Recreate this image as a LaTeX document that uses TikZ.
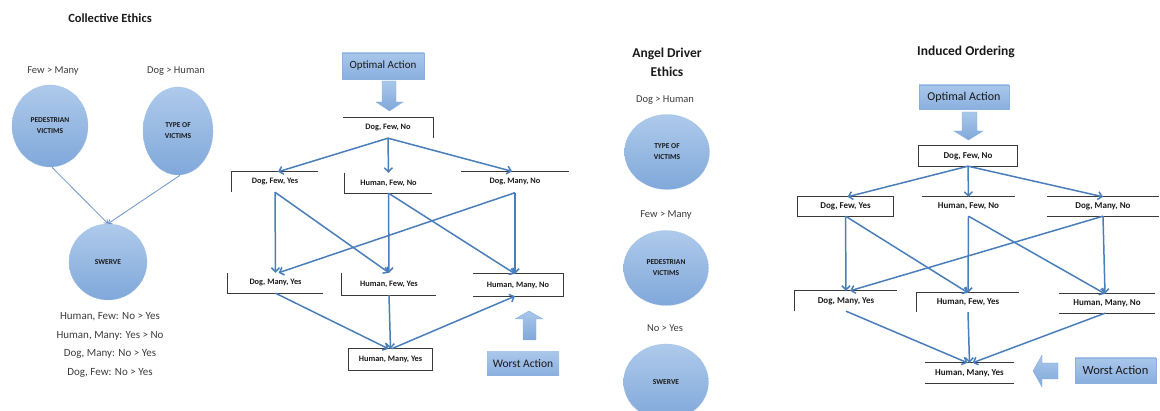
\documentclass[tikz,border=0pt]{standalone}
\usepackage{fontspec}
\setmainfont{Carlito}
\usetikzlibrary{arrows.meta,shapes.geometric}

\definecolor{edgeblue}{HTML}{4A7EBB}
\definecolor{thinblue}{HTML}{6A93CC}
\definecolor{bubtop}{HTML}{AECAEB}
\definecolor{bubbot}{HTML}{80A8DA}
\definecolor{bubline}{HTML}{9DBCE4}
\definecolor{btntop}{HTML}{A9C7EB}
\definecolor{btnbot}{HTML}{8AAFDF}
\definecolor{btnline}{HTML}{8DB0DE}
\definecolor{framegray}{HTML}{3A3A3A}
\definecolor{ink}{HTML}{1A1A1A}

\tikzset{
  title/.style={font=\fontsize{12.5}{15}\selectfont\bfseries, text=ink, align=center},
  pref/.style={font=\fontsize{10.5}{12}\selectfont, text=ink!85},
  bubble/.style={ellipse, inner sep=0, top color=bubtop, bottom color=bubbot,
    draw=bubline, line width=0.6pt, densely dotted,
    font=\fontsize{7.5}{11}\selectfont\bfseries, text=ink, align=center},
  stateA/.style={inner sep=0, font=\fontsize{8.3}{10}\selectfont\bfseries, text=ink},
  stateB/.style={inner sep=0, font=\fontsize{9}{10}\selectfont\bfseries, text=ink},
  frame/.style={draw=framegray, line width=1pt},
  button/.style={inner sep=0, top color=btntop, bottom color=btnbot,
    draw=btnline, line width=0.6pt, text=ink},
  blockarrow/.style={top color=btntop, bottom color=bubbot, draw=btnline, line width=0.4pt},
  edge/.style={draw=edgeblue, line width=1.5pt, -{Straight Barb[length=4pt,width=8pt]}},
  thinedge/.style={draw=thinblue, line width=0.8pt, -{Straight Barb[length=3pt,width=5pt]}}
}

\begin{document}
\begin{tikzpicture}[x=1pt,y=-1pt]
\useasboundingbox (0,0) rectangle (1160,411);
\clip (0,0) rectangle (1160,411);

% ---------------- Collective ethics ----------------
\node[title] (tce) at (110,18) {Collective Ethics};
\node[pref] (pfm) at (53,71) {Few > Many};
\node[pref] (pdh) at (176,71) {Dog > Human};
\node[bubble, minimum width=76, minimum height=82] (cped) at (50,126) {PEDESTRIAN\\VICTIMS};
\node[bubble, minimum width=70, minimum height=88] (ctype) at (178,131) {TYPE OF\\VICTIMS};
\node[bubble, minimum width=78, minimum height=76] (cswv) at (108,262) {SWERVE};
\draw[thinedge] (cped.south) ++(2,0) -- (cswv.north);
\draw[thinedge] (ctype.south) ++(2,0) -- (cswv.north);
\node[pref, font=\fontsize{11}{18.6}\selectfont, align=center] (rules) at (110,345)
  {Human, Few: No > Yes\\Human, Many: Yes > No\\Dog, Many: No > Yes\\Dog, Few: No > Yes};

% ---------------- Ordering of actions ----------------
\node[button, minimum width=82, minimum height=26, font=\fontsize{11}{13}\selectfont] (opt1) at (383,66) {Optimal Action};
\path[blockarrow] (382,81) -- (396,81) -- (396,102) -- (403,102) -- (389.5,111) -- (376,102) -- (382,102) -- cycle;

\node[stateA, minimum width=90, minimum height=20] (a1) at (388,128) {Dog, Few, No};
\node[stateA, minimum width=86, minimum height=20] (a2) at (275,182) {Dog, Few, Yes};
\node[stateA, minimum width=87, minimum height=20] (a3) at (388.5,183) {Human, Few, No};
\node[stateA, minimum width=108, minimum height=21] (a4) at (515,182) {Dog, Many, No};
\node[stateA, minimum width=95, minimum height=20] (a5) at (275.5,283) {Dog, Many, Yes};
\node[stateA, minimum width=94, minimum height=22] (a6) at (389,284) {Human, Few, Yes};
\node[stateA, minimum width=90, minimum height=22] (a7) at (518,285) {Human, Many, No};
\node[stateA, minimum width=83, minimum height=21] (a8) at (390.5,359.5) {Human, Many, Yes};

\draw[frame] (a1.north west) -- (a1.north east) -- (a1.south east);
\draw[frame] (a2.south west) -- (a2.north west) -- (a2.north east);
\draw[frame] (a3.north west) -- (a3.south west) -- (a3.south east);
\draw[frame] (a4.north west) -- (a4.north east);
\draw[frame] (a5.north west) -- (a5.south west) -- (a5.south east);
\draw[frame] (a6.north west) -- (a6.south west) -- (a6.south east);
\draw[frame] (a7.north west) -- (a7.north east) -- (a7.south east) -- (a7.south west);
\draw[frame] (a8.north west) rectangle (a8.south east);

\draw[edge] (a1.south) -- ([xshift=3pt]a2.north);
\draw[edge] (a1.south) -- (a3.north);
\draw[edge] (a1.south) -- ([xshift=-3pt]a4.north);
\draw[edge] (a2.south) -- (a5.north);
\draw[edge] (a2.south) -- (a6.north);
\draw[edge] (a3.south) -- (a6.north);
\draw[edge] (a3.south) -- ([xshift=-3pt]a7.north);
\draw[edge] (a4.south) -- ([xshift=3pt]a5.north);
\draw[edge] (a4.south) -- ([xshift=-3pt]a7.north);
\draw[edge] (a5.south) -- ([xshift=-2pt]a8.north);
\draw[edge] (a6.south) -- (a8.north);
\draw[edge] ([xshift=1pt]a8.north) -- ([xshift=-3pt]a7.south);

\path[blockarrow] (529,311) -- (543,319) -- (536,319) -- (536,340) -- (523,340) -- (523,319) -- (515,319) -- cycle;
\node[button, minimum width=72, minimum height=24, font=\fontsize{11.5}{13}\selectfont, draw=none] (worst1) at (523,364) {Worst Action};

% ---------------- Angel driver ethics ----------------
\node[title, font=\fontsize{13.5}{19}\selectfont\bfseries] (tad) at (667,62) {Angel Driver\\Ethics};
\node[pref] (qdh) at (665,100) {Dog > Human};
\node[bubble, minimum width=85, minimum height=75] (etype) at (667,152) {TYPE OF\\VICTIMS};
\node[pref] (qfm) at (666,215) {Few > Many};
\node[bubble, minimum width=85, minimum height=75] (eped) at (666,268) {PEDESTRIAN\\VICTIMS};
\node[pref] (qny) at (665,328) {No > Yes};
\node[bubble, minimum width=85, minimum height=76] (eswv) at (666,382) {SWERVE};

% ---------------- Induced ordering ----------------
\node[title, font=\fontsize{13.5}{15}\selectfont\bfseries] (tio) at (966,52) {Induced Ordering};
\node[button, minimum width=90, minimum height=24, font=\fontsize{12}{14}\selectfont] (opt2) at (964,97) {Optimal Action};
\path[blockarrow] (962,112) -- (977,112) -- (977,131) -- (983,131) -- (968.5,140) -- (954,131) -- (962,131) -- cycle;

\node[stateB, minimum width=98, minimum height=20] (b1) at (968,156) {Dog, Few, No};
\node[stateB, minimum width=95, minimum height=19] (b2) at (845.5,206.5) {Dog, Few, Yes};
\node[stateB, minimum width=93, minimum height=19] (b3) at (968.5,206.5) {Human, Few, No};
\node[stateB, minimum width=112, minimum height=19] (b4) at (1103,206.5) {Dog, Many, No};
\node[stateB, minimum width=102, minimum height=20] (b5) at (846,301) {Dog, Many, Yes};
\node[stateB, minimum width=102, minimum height=19] (b6) at (968,302.5) {Human, Few, Yes};
\node[stateB, minimum width=96, minimum height=19] (b7) at (1107,303.5) {Human, Many, No};
\node[stateB, minimum width=89, minimum height=20] (b8) at (969.5,373) {Human, Many, Yes};

\draw[frame] (b1.north west) rectangle (b1.south east);
\draw[frame] (b2.north west) rectangle (b2.south east);
\draw[frame] (b3.north west) -- (b3.north east);
\draw[frame] (b4.north west) -- (b4.north east);
\draw[frame] (b4.south west) -- (b4.south east);
\draw[frame] (b5.south west) -- (b5.north west) -- (b5.north east);
\draw[frame] (b6.south west) -- (b6.north west) -- (b6.north east);
\draw[frame] (b7.north west) -- (b7.north east);
\draw[frame] (b7.south west) -- (b7.south east);
\draw[frame] (b8.north west) -- (b8.north east);
\draw[frame] (b8.south west) -- (b8.south east);

\draw[edge] (b1.south) -- ([xshift=2pt]b2.north);
\draw[edge] (b1.south) -- (b3.north);
\draw[edge] (b1.south) -- (b4.north);
\draw[edge] (b2.south) -- (b5.north);
\draw[edge] (b2.south) -- (b6.north);
\draw[edge] (b3.south) -- (b6.north);
\draw[edge] (b3.south) -- ([xshift=-2pt]b7.north);
\draw[edge] (b4.south) -- ([xshift=4pt]b5.north);
\draw[edge] (b4.south) -- ([xshift=-2pt]b7.north);
\draw[edge] (b5.south) -- ([xshift=-2pt]b8.north);
\draw[edge] (b6.south) -- (b8.north);
\draw[edge] ([xshift=-2pt]b7.south) -- ([xshift=3pt]b8.north);

\path[blockarrow] (1033,371) -- (1042,355) -- (1042,363) -- (1058,363) -- (1058,379) -- (1042,379) -- (1042,387) -- cycle;
\node[button, minimum width=81, minimum height=25, font=\fontsize{12.5}{14}\selectfont] (worst2) at (1115.5,370.5) {Worst Action};
\end{tikzpicture}
\end{document}
